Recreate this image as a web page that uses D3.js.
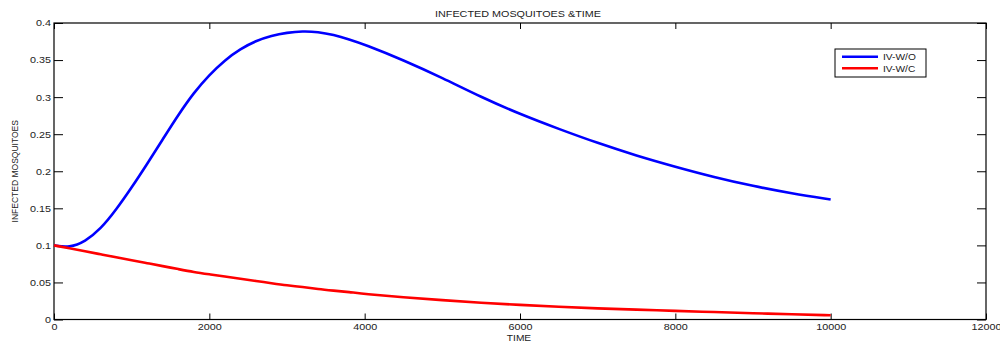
<!DOCTYPE html>
<html>
<head>
  <meta charset="utf-8">
  <title>Infected Mosquitoes & Time</title>
  <script src="https://d3js.org/d3.v7.min.js"></script>
  <style>
    body { margin: 0; background: #fff; }
    .canvas { background-color: white; }
    .line { fill: none; stroke-width: 2.6px; }
    text { font-family: "Liberation Sans", Arial, sans-serif; fill: #222; }
  </style>
</head>
<body>
<script>
  // Data
  var times = [0, 200, 400, 600, 800, 1000, 1200, 1400, 1600, 1800, 2000, 2200, 2400, 2600, 2800,
               3000, 3200, 3400, 3600, 3800, 4000, 4500, 5000, 5500, 6000, 6500, 7000, 7500,
               8000, 8500, 9000, 9500, 10000];
  var ivWO = [0.100, 0.097, 0.105, 0.122, 0.148, 0.178, 0.210, 0.243, 0.276, 0.306, 0.330, 0.350,
              0.365, 0.376, 0.383, 0.387, 0.389, 0.388, 0.384, 0.378, 0.371, 0.350, 0.326, 0.300,
              0.277, 0.257, 0.238, 0.221, 0.206, 0.192, 0.180, 0.170, 0.162];
  var ivWC = [0.100, 0.096, 0.092, 0.088, 0.084, 0.080, 0.076, 0.072, 0.068, 0.064, 0.061, 0.058,
              0.055, 0.052, 0.049, 0.046, 0.044, 0.041, 0.039, 0.037, 0.0345, 0.030, 0.026, 0.0226,
              0.0196, 0.017, 0.015, 0.0133, 0.0117, 0.010, 0.0085, 0.007, 0.0057];
  var seriesNames = ["IV-W/O", "IV-W/C"];
  var seriesColors = ["#0000ff", "#ff0000"];
  var xTicks = [0, 2000, 4000, 6000, 8000, 10000, 12000];
  var yTicks = [0, 0.05, 0.1, 0.15, 0.2, 0.25, 0.3, 0.35, 0.4];

  // Consts
  var width = 1000, height = 342;
  var margin = {top: 23, right: 14, bottom: 22.5, left: 54};
  var stretch = 1.2;

  var svg = d3.select("body").append("svg")
      .attr("width", width)
      .attr("height", height)
      .attr("class", "canvas");

  var w = width - margin.left - margin.right;
  var h = height - margin.top - margin.bottom;

  var g = svg.append("g")
      .attr("transform", "translate(" + margin.left + "," + margin.top + ")");

  // Scales
  var x = d3.scaleLinear().domain([0, 12000]).range([0, w]);
  var y = d3.scaleLinear().domain([0, 0.4]).range([h, 0]);

  // Axes (MATLAB style, ticks pointing in)
  var fmtY = function(d) { return d === 0 ? "0" : String(+d.toFixed(2)); };

  var xAxis = g.append("g")
      .attr("transform", "translate(0," + h + ")")
      .call(d3.axisBottom(x).tickValues(xTicks).tickFormat(d3.format("d"))
              .tickSizeInner(-6).tickSizeOuter(0).tickPadding(4));
  xAxis.selectAll("text")
      .attr("transform", "scale(" + stretch + ",1)")
      .style("font-size", "9px");

  var yAxis = g.append("g")
      .call(d3.axisLeft(y).tickValues(yTicks).tickFormat(fmtY).tickSizeInner(-9).tickSizeOuter(0).tickPadding(2.5));
  yAxis.selectAll("text")
      .attr("transform", "scale(" + stretch + ",1)")
      .style("font-size", "9px");

  g.append("g")
      .call(d3.axisTop(x).tickValues(xTicks).tickSizeInner(-6).tickSizeOuter(0).tickFormat(""));
  g.append("g")
      .attr("transform", "translate(" + w + ",0)")
      .call(d3.axisRight(y).tickValues(yTicks).tickSizeInner(-9).tickSizeOuter(0).tickFormat(""));

  g.selectAll(".domain").remove();
  g.selectAll(".tick line").attr("stroke", "#000");

  g.append("rect")
      .attr("width", w)
      .attr("height", h)
      .attr("fill", "none")
      .attr("stroke", "#000")
      .attr("stroke-width", 1.2);

  // Lines
  var line = d3.line()
      .curve(d3.curveBasis)
      .x(function(d, i) { return x(times[i]); })
      .y(function(d) { return y(d); });

  [ivWO, ivWC].forEach(function(vals, i) {
    g.append("path")
        .attr("class", "line")
        .attr("d", line(vals))
        .style("stroke", seriesColors[i]);
  });

  // Titles
  function stretchedText(px, py, txt, size) {
    return svg.append("text")
        .attr("transform", "translate(" + px + "," + py + ") scale(" + stretch + ",1)")
        .attr("text-anchor", "middle")
        .style("font-size", size + "px")
        .text(txt);
  }
  stretchedText(margin.left + w / 2 - 2, 17, "INFECTED MOSQUITOES &TIME", 9);
  stretchedText(margin.left + w / 2 - 1, 341, "TIME", 8.5);

  svg.append("text")
      .attr("transform", "translate(18," + (margin.top + h / 2) + ") rotate(-90)")
      .attr("text-anchor", "middle")
      .style("font-size", "8.5px")
      .text("INFECTED MOSQUITOES");

  // Legend
  var legend = svg.append("g").attr("transform", "translate(835,49)");
  legend.append("rect")
      .attr("width", 91)
      .attr("height", 28)
      .attr("fill", "#fff")
      .attr("stroke", "#000")
      .attr("stroke-width", 1);
  seriesNames.forEach(function(name, i) {
    var ly = 7.7 + i * 11.6;
    legend.append("line")
        .attr("x1", 7).attr("x2", 43)
        .attr("y1", ly).attr("y2", ly)
        .attr("stroke", seriesColors[i])
        .attr("stroke-width", 2.6);
    legend.append("text")
        .attr("transform", "translate(48," + (ly + 3.2) + ") scale(" + stretch + ",1)")
        .style("font-size", "8.5px")
        .text(name);
  });
</script>
</body>
</html>
